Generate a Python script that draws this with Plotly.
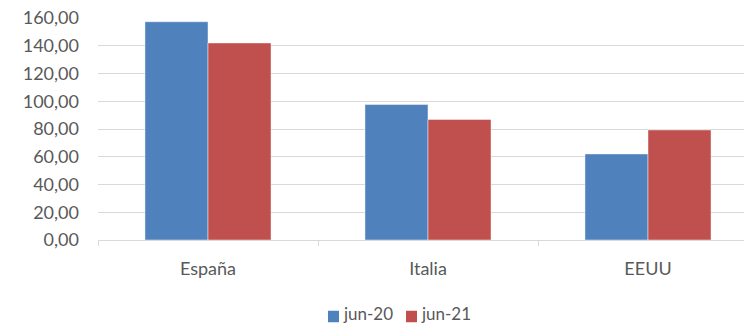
import plotly.graph_objects as go

categories = ["España", "Italia", "EEUU"]
series_names = ["jun-20", "jun-21"]
values_jun20 = [157.3, 97.7, 62.0]
values_jun21 = [142.0, 86.9, 79.3]
series_values = [values_jun20, values_jun21]
series_colors = ["#4F81BD", "#C0504D"]
y_ticks = [0, 20, 40, 60, 80, 100, 120, 140, 160]

W, H = 744, 325
ML, MR, MT, MB = 98, 0, 18, 85
PW, PH = W - ML - MR, H - MT - MB

fig = go.Figure()
for name, vals, col in zip(series_names, series_values, series_colors):
    fig.add_trace(go.Bar(
        x=categories, y=vals, name=name,
        marker=dict(color=col, line=dict(color="rgba(255,255,255,0.6)", width=0.75)),
        showlegend=False,
    ))

font_family = "Lato, 'Open Sans', sans-serif"
txt_col = "#595959"

fig.update_layout(
    width=W, height=H,
    margin=dict(l=ML, r=MR, t=MT, b=MB, pad=0),
    paper_bgcolor="white", plot_bgcolor="white",
    barmode="group", bargap=0.427, bargroupgap=0,
    separators=",.",
    font=dict(family=font_family, size=18, color=txt_col),
    xaxis=dict(
        type="category",
        range=[-0.5, 2.5 - 14 / 220],
        showline=True, linecolor="#d9d9d9", linewidth=1,
        ticks="outside", tickson="boundaries", ticklen=5, tickcolor="#d9d9d9", tickwidth=1,
        showgrid=False, zeroline=False,
        tickfont=dict(family=font_family, size=18, color=txt_col),
        ticklabelstandoff=12,
    ),
    yaxis=dict(
        range=[0, 160], tickvals=y_ticks, tickformat=".2f",
        showgrid=True, gridcolor="#d9d9d9", gridwidth=1,
        showline=False, zeroline=False, ticks="",
        tickfont=dict(family=font_family, size=18, color=txt_col),
        ticklabelstandoff=18,
    ),
)

# manual legend (compact, like the original)
leg_x = [328, 406]
leg_sq_y = 316.5
for px, name, col in zip(leg_x, series_names, series_colors):
    x0 = (px - ML) / PW
    x1 = (px + 11 - ML) / PW
    yc = (H - MB - leg_sq_y) / PH
    half = 5.75 / PH
    fig.add_shape(type="rect", xref="paper", yref="paper",
                  x0=x0, x1=x1, y0=yc - half, y1=yc + half,
                  fillcolor=col, line=dict(width=0))
    fig.add_annotation(xref="paper", yref="paper", x=(px + 14 - ML) / PW,
                       y=(H - MB - 324.5) / PH,
                       xanchor="left", yanchor="bottom", text=name, showarrow=False,
                       borderpad=0,
                       font=dict(family=font_family, size=17, color=txt_col))

fig.write_html("out.html")
